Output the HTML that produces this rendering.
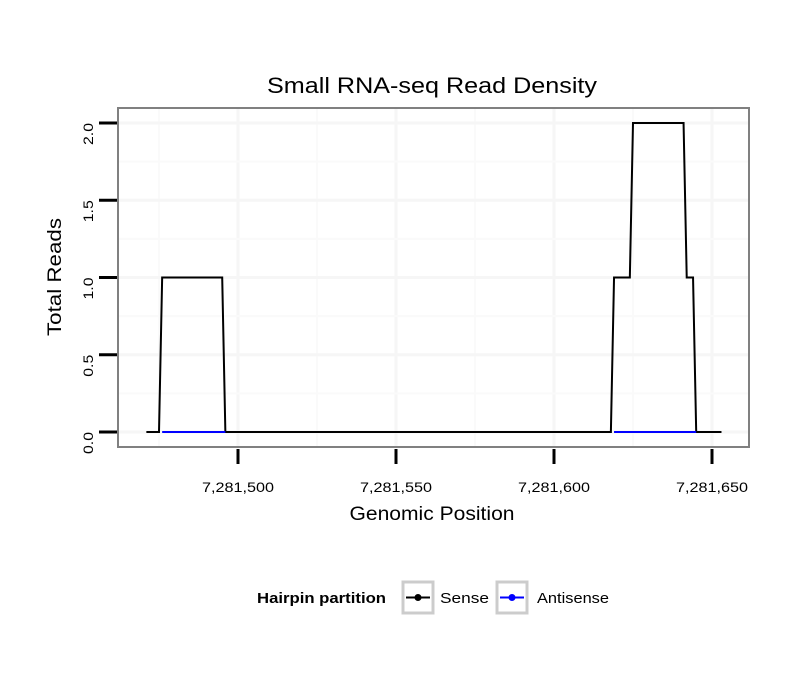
<!DOCTYPE html>
<html><head><meta charset="utf-8"><style>
body{margin:0;background:#fff;font-family:"Liberation Sans",sans-serif}
</style></head><body>
<svg id="chart" width="810" height="690" xmlns="http://www.w3.org/2000/svg" font-family="Liberation Sans, sans-serif">
<text x="432" y="93" font-size="22" text-anchor="middle" textLength="330" lengthAdjust="spacingAndGlyphs">Small RNA-seq Read Density</text>
<g id="grid"></g>
<g id="series"></g>
<rect x="118" y="108" width="631" height="339" fill="none" stroke="#808080" stroke-width="2"/>
<g id="axes"></g>
<text x="432" y="520" font-size="19" text-anchor="middle" textLength="165" lengthAdjust="spacingAndGlyphs">Genomic Position</text>
<text transform="translate(61,277) rotate(-90)" font-size="19" text-anchor="middle" textLength="118" lengthAdjust="spacingAndGlyphs">Total Reads</text>
<g>
<text x="386" y="603" font-size="15" font-weight="bold" text-anchor="end" textLength="129" lengthAdjust="spacingAndGlyphs">Hairpin partition</text>
<g>
<rect x="403" y="582" width="30" height="31" fill="#fff" stroke="#ccc" stroke-width="3"/>
<line x1="406" y1="597.5" x2="430" y2="597.5" stroke="#000" stroke-width="2"/><circle cx="418" cy="597.5" r="3.5" fill="#000"/>
<text x="440" y="603" font-size="15" textLength="49" lengthAdjust="spacingAndGlyphs">Sense</text></g>
<g>
<rect x="497" y="582" width="30" height="31" fill="#fff" stroke="#ccc" stroke-width="3"/>
<line x1="500" y1="597.5" x2="524" y2="597.5" stroke="#00f" stroke-width="2"/><circle cx="512" cy="597.5" r="3.5" fill="#00f"/>
<text x="537" y="603" font-size="15" textLength="72" lengthAdjust="spacingAndGlyphs">Antisense</text></g>
</g>
</svg>
<script>
const senseX=[7281471,7281475,7281476,7281495,7281496,7281618,7281619,7281624,7281625,7281641,7281642,7281644,7281645,7281653];
const senseY=[0,0,1,1,0,0,1,1,2,2,1,1,0,0];
const antiX1=[7281476,7281496];
const antiX2=[7281619,7281645];
const antiY=[0,0];
const xTicks=[7281500,7281550,7281600,7281650];
const xTickLabels=["7,281,500","7,281,550","7,281,600","7,281,650"];
const yTicks=[0,0.5,1,1.5,2];
const yTickLabels=["0.0","0.5","1.0","1.5","2.0"];
const NS="http://www.w3.org/2000/svg";
const sx=v=>238+(v-7281500)*3.16;
const sy=v=>432-v*154.5;
function mk(t,a,p){const e=document.createElementNS(NS,t);for(const k in a)e.setAttribute(k,a[k]);p.appendChild(e);return e;}
const grid=document.getElementById('grid'),series=document.getElementById('series'),axes=document.getElementById('axes');
for(let v=7281475;v<=7281650;v+=25){const l=mk('line',{x1:sx(v),x2:sx(v),y1:109,y2:446,stroke:v%50===0?'#f6f6f6':'#fafafa','stroke-width':v%50===0?3:2},grid);

}
for(let v=0;v<=2.25;v+=0.25){const y=sy(v);if(y<109)continue;const l=mk('line',{x1:119,x2:748,y1:y,y2:y,stroke:(v*2)%1===0?'#f6f6f6':'#fafafa','stroke-width':(v*2)%1===0?3:2},grid);

}
function pts(xs,ys){return xs.map((x,i)=>sx(x)+','+sy(ys[i])).join(' ');}
const s=mk('polyline',{points:pts(senseX,senseY),fill:'none',stroke:'#000','stroke-width':2},series);


[antiX1,antiX2].forEach(xs=>{const a=mk('polyline',{points:pts(xs,antiY),fill:'none',stroke:'#00f','stroke-width':2},series);

});
xTicks.forEach((v,i)=>{const t=mk('line',{x1:sx(v),x2:sx(v),y1:449,y2:464,stroke:'#000','stroke-width':3},axes);


const tx=mk('text',{x:sx(v),y:492,'font-size':14,'text-anchor':'middle',textLength:72,lengthAdjust:'spacingAndGlyphs'},axes);tx.textContent=xTickLabels[i];

});
yTicks.forEach((v,i)=>{const t=mk('line',{x1:99,x2:117,y1:sy(v),y2:sy(v),stroke:'#000','stroke-width':3},axes);


const tx=mk('text',{transform:`translate(93,${sy(v)}) rotate(-90)`,'font-size':14,'text-anchor':'end',textLength:22,lengthAdjust:'spacingAndGlyphs'},axes);tx.textContent=yTickLabels[i];

});
</script>
</body></html>
